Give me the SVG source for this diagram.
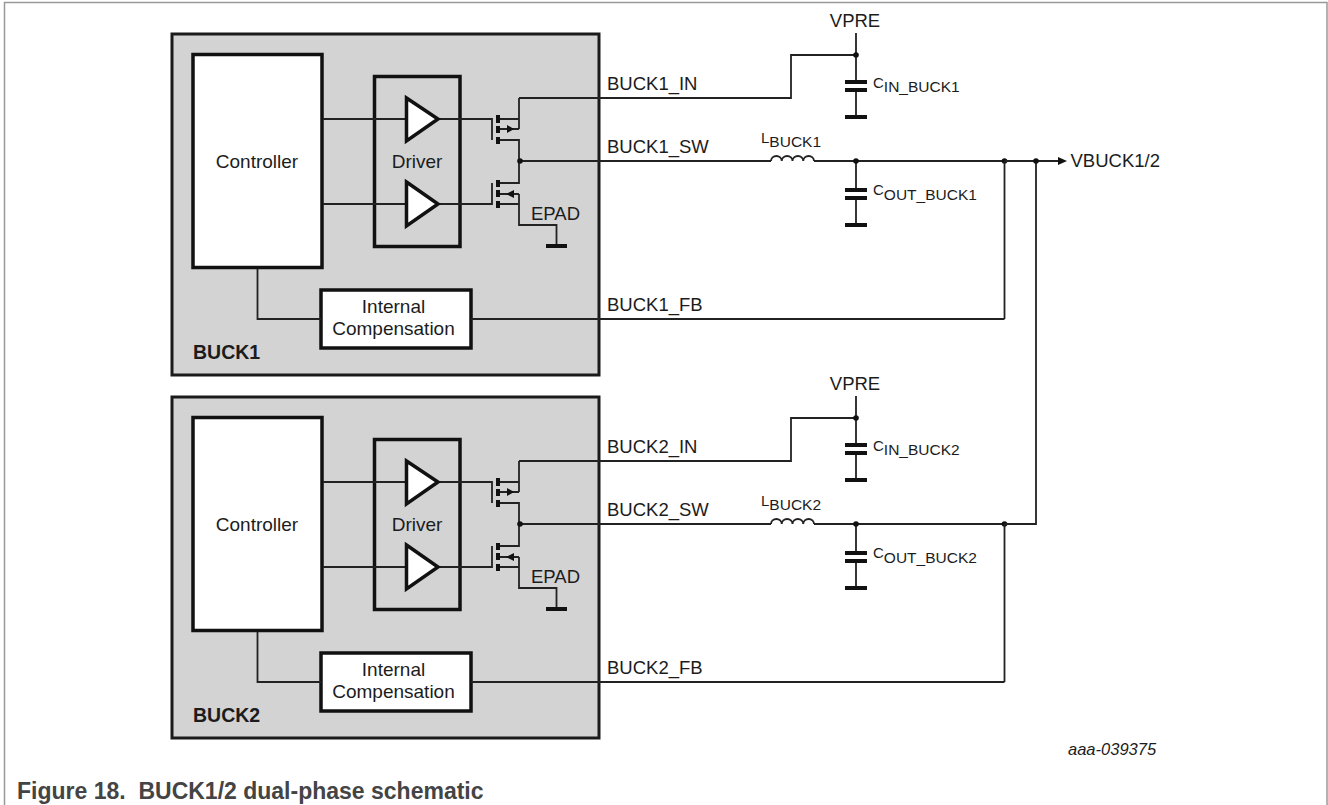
<svg xmlns="http://www.w3.org/2000/svg" width="1328" height="805" viewBox="0 0 1328 805">
<style>
text{font-family:"Liberation Sans",Arial,sans-serif;font-size:18.500px;fill:#1c1c1c}
.big{font-size:19px}
.b{font-weight:bold;font-size:19.500px}
.cap{font-weight:bold;fill:#444;font-size:23px;white-space:pre}
.code{font-style:italic;font-size:16.500px}
.s{font-size:15px}
.sb{font-size:15.500px}
.w{fill:none;stroke:#222;stroke-width:1.800}
.t{fill:none;stroke:#111;stroke-width:4}
.block{fill:#d3d3d3;stroke:#1a1a1a;stroke-width:3}
.box{fill:#fff;stroke:#111;stroke-width:3.500}
.driver{fill:none;stroke:#111;stroke-width:3.500}
.tri{fill:#fff;stroke:#111;stroke-width:3.500}
.d{fill:#111}
.m{text-anchor:middle}
</style>
<g id="frame"><path d="M4.500 805V2.500H1327V805" fill="none" stroke="#999" stroke-width="1.500"/></g>
<g id="buck1">
<rect class="block" x="172" y="34" width="427" height="341"/>
<rect class="box" x="193" y="54.500" width="129" height="213"/>
<text class="m big" x="257" y="168">Controller</text>
<rect class="driver" x="374.500" y="76.500" width="85.500" height="170"/>
<text class="m big" x="417" y="168">Driver</text>
<rect class="box" x="321" y="290" width="150" height="58"/>
<text class="m big" x="393.500" y="313">Internal</text>
<text class="m big" x="393.500" y="335">Compensation</text>
<text class="b" x="193" y="359">BUCK1</text>
<text x="607" y="90">BUCK1_IN</text>
<text x="607" y="153">BUCK1_SW</text>
<text x="607" y="311">BUCK1_FB</text>
<text x="531" y="220">EPAD</text>
</g>
<g id="buck2" transform="translate(0,363)">
<rect class="block" x="172" y="34" width="427" height="341"/>
<rect class="box" x="193" y="54.500" width="129" height="213"/>
<text class="m big" x="257" y="168">Controller</text>
<rect class="driver" x="374.500" y="76.500" width="85.500" height="170"/>
<text class="m big" x="417" y="168">Driver</text>
<rect class="box" x="321" y="290" width="150" height="58"/>
<text class="m big" x="393.500" y="313">Internal</text>
<text class="m big" x="393.500" y="335">Compensation</text>
<text class="b" x="193" y="359">BUCK2</text>
<text x="607" y="90">BUCK2_IN</text>
<text x="607" y="153">BUCK2_SW</text>
<text x="607" y="311">BUCK2_FB</text>
<text x="531" y="220">EPAD</text>
</g>
<g id="connectors">
<defs>
<g id="stage">
<path class="w" d="M323 119H406M323 204H406M439 119H492V140M439 204H492V183M257.500 269V319H321M471 319H1004.500M498 119H519M498 129H519M498 140H519V183H498M498 194H519M498 204H519M519 98V129M519 194V225H556.500V245M519.500 161H771M814 161H1004.500M519 98H791V55H856M856 33V82M856 90V117M856 161V190M856 198V225"/>
<path class="t" d="M498 115V123M498 126V133M498 137V144M498 180V187M498 190V197M498 201V208M546 246H567M845 82H867M845 90H867M845 117H867M845 190H867M845 198H867M845 225H867"/>
<path class="d" d="M507 125L514 129L507 133ZM514 190L506 194L514 198Z"/>
<path class="w" d="M771 161a5.375 5 0 0 1 10.750 0a5.375 5 0 0 1 10.750 0a5.375 5 0 0 1 10.750 0a5.375 5 0 0 1 10.750 0"/>
<circle class="d" cx="520" cy="161" r="2.800"/><circle class="d" cx="856" cy="55" r="2.800"/><circle class="d" cx="856" cy="161" r="2.800"/><circle class="d" cx="1004.500" cy="161" r="2.800"/>
<path class="tri" d="M406.500 98L438 119L406.500 141Z"/>
<path class="tri" d="M406.500 182L438 204L406.500 226Z"/>
<path class="w" d="M1004.500 161V319"/>
</g>
</defs>
<use href="#stage"/>
<use href="#stage" y="363"/>
<path class="w" d="M1004.500 161H1058M1036 161V524H1004.500"/>
<circle class="d" cx="1036" cy="161" r="2.800"/>
<path class="d" d="M1058 157V165L1067 161Z"/>
</g>
<g id="vpre1"><text class="m" x="855" y="27">VPRE</text></g>
<g id="cin1"><text class="s" x="873" y="88">C<tspan class="sb" dy="4">IN_BUCK1</tspan></text></g>
<g id="l1"><text class="s" x="761" y="143">L<tspan class="sb" dy="4">BUCK1</tspan></text></g>
<g id="cout1"><text class="s" x="873" y="195">C<tspan class="sb" dy="5">OUT_BUCK1</tspan></text></g>
<g id="vout"><text x="1070.500" y="167">VBUCK1/2</text></g>
<g id="vpre2"><text class="m" x="855" y="390">VPRE</text></g>
<g id="cin2"><text class="s" x="873" y="451">C<tspan class="sb" dy="4">IN_BUCK2</tspan></text></g>
<g id="l2"><text class="s" x="761" y="506">L<tspan class="sb" dy="4">BUCK2</tspan></text></g>
<g id="cout2"><text class="s" x="873" y="558">C<tspan class="sb" dy="5">OUT_BUCK2</tspan></text></g>
<text class="code" x="1068" y="755">aaa-039375</text>
<text class="cap" x="17" y="799">Figure 18.  BUCK1/2 dual-phase schematic</text>
</svg>
